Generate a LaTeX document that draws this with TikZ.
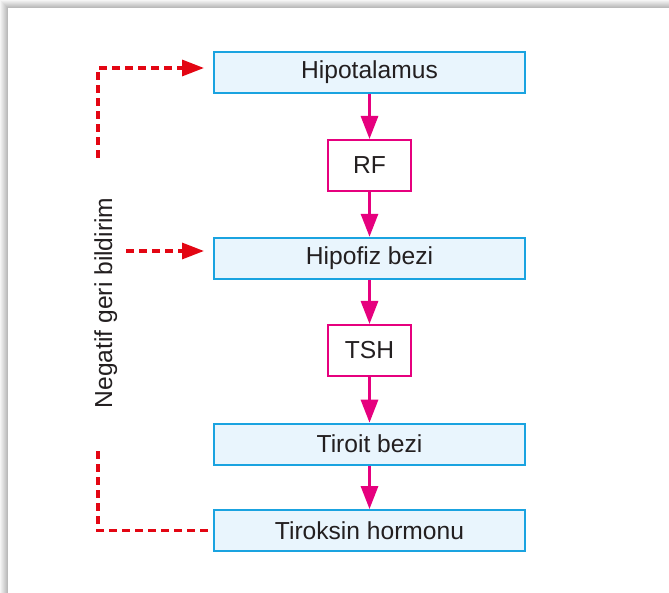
\documentclass[tikz,border=0pt]{standalone}
\usepackage{fontspec}
\setmainfont{Liberation Sans}
\usetikzlibrary{arrows.meta}
\definecolor{boxblue}{HTML}{1AA3E0}
\definecolor{boxfill}{HTML}{E9F5FD}
\definecolor{hormpink}{HTML}{E6007E}
\definecolor{fbred}{HTML}{E30613}
\definecolor{txt}{HTML}{231F20}
\tikzset{
  lbl/.style={text=txt, font=\fontsize{24.6}{28}\selectfont},
  organ/.style={lbl, draw=boxblue, fill=boxfill, line width=2pt, minimum width=311pt,
    minimum height=41pt, inner sep=0pt},
  hormone/.style={lbl, draw=hormpink, fill=white, line width=2pt, minimum width=83pt,
    minimum height=51pt, inner sep=0pt},
  flow/.style={draw=hormpink, line width=3pt, -{Triangle[length=23pt,width=17pt]}},
  feedback/.style={draw=fbred, line width=3.2pt, dash pattern=on 8pt off 5pt},
  fbtip/.style={-{Triangle[length=22pt,width=16pt]}, shorten >=9pt},
}
\begin{document}
\begin{tikzpicture}[x=1pt,y=-1pt]
\useasboundingbox (0,0) rectangle (669,593);
% page edge with soft shadow
\foreach \i in {0,...,7}{
  \pgfmathsetmacro{\shade}{4+\i*3.3}
  \fill[black!\shade] (\i,\i) rectangle (669,593);
}
\fill[white] (8,8) rectangle (669,593);

% chain of glands and hormones
\node[organ]   (hyp)  at (369.5,72.5)  {Hipotalamus};
\node[hormone] (rf)   at (369.5,165.5) {RF};
\node[organ]   (hip)  at (369.5,258.3) {Hipofiz bezi};
\node[hormone] (tsh)  at (369.5,350.5) {TSH};
\node[organ]   (tir)  at (369.5,444.2) {Tiroit bezi};
\node[organ]   (tirk) at (369.5,530.6) {Tiroksin hormonu};

\draw[flow] (hyp) -- (rf);
\draw[flow] (rf) -- (hip);
\draw[flow] (hip) -- (tsh);
\draw[flow] (tsh) -- (tir);
\draw[flow] (tir) -- (tirk);

% negative feedback loop
\coordinate (topend)  at (98,158);
\coordinate (topturn) at (98,68);
\coordinate (midstart) at (126,251);
\coordinate (botend)  at (98,451);

\draw[feedback,fbtip] (topend) -- (topturn) -- (topturn -| hyp.west);
\draw[feedback,fbtip] (midstart) -- (midstart -| hip.west);
\draw[feedback] (botend) |- (tirk.west);

\node[lbl, rotate=90, anchor=base] (neg) at (112,303) {Negatif geri bildirim};
\end{tikzpicture}
\end{document}
